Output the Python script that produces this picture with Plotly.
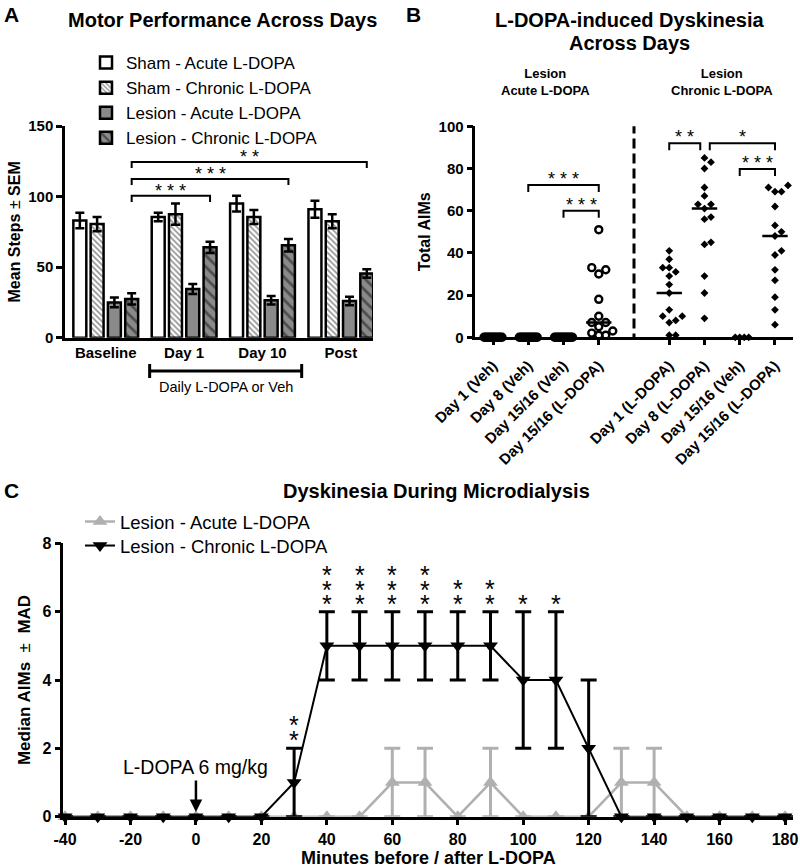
import numpy as np
import plotly.graph_objects as go

W, H = 800, 868
FONT = "Arial, Liberation Sans, sans-serif"

# ---------------- Panel A data: Motor performance ----------------
a_groups = ["Baseline", "Day 1", "Day 10", "Post"]
a_names = ["Sham - Acute L-DOPA", "Sham - Chronic L-DOPA",
           "Lesion - Acute L-DOPA", "Lesion - Chronic L-DOPA"]
sham_acute_mean = [83, 85.5, 95, 91]
sham_acute_sem = [5.5, 3, 5.5, 6]
sham_chronic_mean = [80.5, 87.5, 85.5, 82.5]
sham_chronic_sem = [5, 7.5, 5, 5]
lesion_acute_mean = [25, 34.5, 26.5, 26]
lesion_acute_sem = [3.5, 3.5, 3, 3]
lesion_chronic_mean = [27.5, 64, 65.5, 45.5]
lesion_chronic_sem = [4, 4, 4.5, 3]
# significance brackets (from Baseline lesion-chronic to group index)
a_sig_targets = [1, 2, 3]
a_sig_levels = [100.5, 112.5, 124.5]
a_sig_text = ["***", "***", "**"]

# ---------------- Panel B data: AIMs scatter ----------------
b_acute_labels = ["Day 1 (Veh)", "Day 8 (Veh)", "Day 15/16 (Veh)", "Day 15/16 (L-DOPA)"]
b_chronic_labels = ["Day 1 (L-DOPA)", "Day 8 (L-DOPA)", "Day 15/16 (Veh)", "Day 15/16 (L-DOPA)"]
acute_day1_veh = [0, 0, 0, 0, 0, 0, 0, 0, 0, 0, 0, 0, 0]
acute_day8_veh = [0, 0, 0, 0, 0, 0, 0, 0, 0, 0, 0, 0, 0]
acute_day1516_veh = [0, 0, 0, 0, 0, 0, 0, 0, 0, 0, 0, 0, 0]
acute_day1516_ldopa = [51, 33, 32, 30, 18, 10, 7, 7, 5, 3, 2, 1, 1]
chronic_day1_ldopa = [41, 37, 33, 33, 31, 29, 25, 21, 13, 10, 10, 8, 7, 1, 1]
chronic_day8_ldopa = [85, 83, 80, 71, 67, 63, 63, 61, 57, 56, 45, 44, 29, 21, 9]
chronic_day1516_veh = [0, 0, 0, 0]
chronic_day1516_ldopa = [72, 71, 69, 69, 62, 53, 50, 48, 41, 39, 32, 27, 19, 13, 6]
# brackets: (from column, to column, level, text)
b_brackets = [(1, 3, 72.2, "***"), (2, 3, 60, "***"), (3, 8, 104.4, "**"),
              (5, 5.88, 92, "**"), (6.15, 8, 92, "*"), (7, 8, 79.8, "***")]

# ---------------- Panel C data: dyskinesia time course ----------------
minutes = [-40, -30, -20, -10, 0, 10, 20, 30, 40, 50, 60, 70, 80, 90, 100,
           110, 120, 130, 140, 150, 160, 170, 180]
acute_median = [0, 0, 0, 0, 0, 0, 0, 0, 0, 0, 1, 1, 0, 1, 0, 0, 0, 1, 1, 0, 0, 0, 0]
acute_mad = [0, 0, 0, 0, 0, 0, 0, 0, 0, 0, 1, 1, 0, 1, 0, 0, 0, 1, 1, 0, 0, 0, 0]
chronic_median = [0, 0, 0, 0, 0, 0, 0, 1, 5, 5, 5, 5, 5, 5, 4, 4, 2, 0, 0, 0, 0, 0, 0]
chronic_mad = [0, 0, 0, 0, 0, 0, 0, 1, 1, 1, 1, 1, 1, 1, 2, 2, 2, 0, 0, 0, 0, 0, 0]
chronic_stars = [0, 0, 0, 0, 0, 0, 0, 2, 3, 3, 3, 3, 2, 2, 1, 1, 0, 0, 0, 0, 0, 0, 0]
c_ticks = [-40, -20, 0, 20, 40, 60, 80, 100, 120, 140, 160, 180]

# ---------------- layout geometry (pixels) ----------------
A_X = (65, 373); A_Y = (337.7, 126.0); A_XR = [-0.52, 3.41]; A_YR = [0, 150]
B_X = (475.4, 792.6); B_Y = (337.3, 126.3); B_XR = [-0.5, 8.5]; B_YR = [0, 100]
C_X = (63.4, 793.2); C_Y = (816.7, 543.3); C_XR = [-40.5, 182.5]; C_YR = [0, 8]


def xdom(p):
    return [p[0] / W, p[1] / W]


def ydom(p):
    return [1 - p[0] / H, 1 - p[1] / H]


axis_common = dict(showline=True, linewidth=2.5, linecolor="black", showgrid=False,
                   zeroline=False, ticks="outside", tickwidth=2.5, ticklen=6, automargin=False,
                   tickcolor="black", tickfont=dict(size=15, weight="bold", color="black"))

fig = go.Figure()

# ---------------- Panel A traces ----------------
BARGAP, BARGROUPGAP = 0.118, 0.25
gray = "#8a8a8a"
a_styles = [
    dict(color="white"),
    dict(color="white", pattern=dict(shape="\\", bgcolor="white", fgcolor="#222222",
                                     size=4, solidity=0.4)),
    dict(color=gray),
    dict(color=gray, pattern=dict(shape="\\", bgcolor=gray, fgcolor="#111111",
                                  size=8, solidity=0.35)),
]
a_means = [sham_acute_mean, sham_chronic_mean, lesion_acute_mean, lesion_chronic_mean]
a_sems = [sham_acute_sem, sham_chronic_sem, lesion_acute_sem, lesion_chronic_sem]
xa = list(range(len(a_groups)))
for name, m, s, st in zip(a_names, a_means, a_sems, a_styles):
    mk = dict(st)
    mk["line"] = dict(color="black", width=2.5)
    fig.add_trace(go.Bar(x=xa, y=m, name=name, marker=mk, xaxis="x", yaxis="y",
                         error_y=dict(type="data", array=s, color="black",
                                      thickness=2.5, width=4.5),
                         legend="legend"))

shapes = []
annotations = []

# bar offset of the Lesion-Chronic bar inside a group
n_series = len(a_names)
slot = (1 - BARGAP) / n_series
lc_off = -(1 - BARGAP) / 2 + slot * (n_series - 0.5)
a_drop = 4.3
for tgt, lev, txt in zip(a_sig_targets, a_sig_levels, a_sig_text):
    x0 = 0 + lc_off
    x1 = tgt + lc_off
    shapes.append(dict(type="path", xref="x", yref="y",
                       path=f"M {x0},{lev - a_drop} L {x0},{lev} L {x1},{lev} L {x1},{lev - a_drop}",
                       line=dict(color="black", width=2)))
    annotations.append(dict(x=(x0 + x1) / 2, y=lev, xref="x", yref="y", text=" ".join(txt),
                            showarrow=False, xanchor="center", yanchor="middle", yshift=5,
                            font=dict(size=18, color="black")))

# "Daily L-DOPA or Veh" bracket under the axis
d0, d1 = 0.56, 2.5
shapes.append(dict(type="line", xref="x", yref="paper", x0=d0, x1=d1,
                   y0=1 - 371 / H, y1=1 - 371 / H, line=dict(color="black", width=3)))
for xx in (d0, d1):
    shapes.append(dict(type="line", xref="x", yref="paper", x0=xx, x1=xx,
                       y0=1 - 364 / H, y1=1 - 378 / H, line=dict(color="black", width=3)))
annotations.append(dict(x=(d0 + d1) / 2, y=1 - 387 / H, xref="x", yref="paper",
                        text="Daily L-DOPA or Veh", showarrow=False,
                        xanchor="center", yanchor="middle",
                        font=dict(size=14.5, color="black")))

# ---------------- Panel B traces ----------------
b_xppu = (B_X[1] - B_X[0]) / (B_XR[1] - B_XR[0])
b_yppu = (B_Y[0] - B_Y[1]) / (B_YR[1] - B_YR[0])


def swarm(vals, diam):
    vals = np.asarray(vals, float)
    order = np.argsort(vals, kind="stable")
    placed = []
    offs = np.zeros(len(vals))
    for i in order:
        y = vals[i] * b_yppu
        k = 0
        while True:
            c = 0 if k == 0 else ((k + 1) // 2) * diam * (1 if k % 2 else -1)
            if all((c - px) ** 2 + (y - py) ** 2 >= diam ** 2 - 1e-9 for px, py in placed):
                break
            k += 1
        placed.append((c, y))
        offs[i] = c / b_xppu
    return offs


acute_cols = [acute_day1_veh, acute_day8_veh, acute_day1516_veh, acute_day1516_ldopa]
chronic_cols = [chronic_day1_ldopa, chronic_day8_ldopa, chronic_day1516_veh, chronic_day1516_ldopa]
acute_pos = list(range(len(acute_cols)))
chronic_pos = [p + len(acute_cols) + 1 for p in range(len(chronic_cols))]
divider = len(acute_cols)

# median lines
for pos, col in list(zip(acute_pos, acute_cols)) + list(zip(chronic_pos, chronic_cols)):
    med = float(np.median(col))
    if med > 0:
        fig.add_trace(go.Scatter(x=[pos - 0.36, pos + 0.36], y=[med, med], mode="lines",
                                 line=dict(color="black", width=2.5), xaxis="x2", yaxis="y2",
                                 showlegend=False, hoverinfo="skip", cliponaxis=False))

for pos, col in zip(acute_pos, acute_cols):
    diam = 7 if max(col) > 0 else 1.5
    xs = pos + swarm(col, diam)
    fig.add_trace(go.Scatter(x=xs, y=col, mode="markers", xaxis="x2", yaxis="y2",
                             marker=dict(symbol="circle-open", size=7, color="black",
                                         line=dict(width=2.4, color="black")),
                             showlegend=False, cliponaxis=False))
for pos, col in zip(chronic_pos, chronic_cols):
    diam = 6.5 if max(col) > 0 else 4.5
    xs = pos + swarm(col, diam)
    fig.add_trace(go.Scatter(x=xs, y=col, mode="markers", xaxis="x2", yaxis="y2",
                             marker=dict(symbol="diamond", size=6, color="black"),
                             showlegend=False, cliponaxis=False))

b_drop = 3.3
for x0, x1, lev, txt in b_brackets:
    shapes.append(dict(type="path", xref="x2", yref="y2",
                       path=f"M {x0},{lev - b_drop} L {x0},{lev} L {x1},{lev} L {x1},{lev - b_drop}",
                       line=dict(color="black", width=2)))
    annotations.append(dict(x=(x0 + x1) / 2, y=lev, xref="x2", yref="y2", text=" ".join(txt),
                            showarrow=False, xanchor="center", yanchor="middle", yshift=6,
                            font=dict(size=18, color="black")))
shapes.append(dict(type="line", xref="x2", yref="y2", x0=divider, x1=divider, y0=-10, y1=130,
                   line=dict(color="black", width=3, dash="10px,5px")))
annotations.append(dict(x=np.mean(acute_pos), y=1 - 81.5 / H, xref="x2", yref="paper",
                        text="<b>Lesion<br>Acute L-DOPA</b>", showarrow=False,
                        xanchor="center", yanchor="middle",
                        font=dict(size=13, color="black")))
annotations.append(dict(x=np.mean(chronic_pos), y=1 - 81.5 / H, xref="x2", yref="paper",
                        text="<b>Lesion<br>Chronic L-DOPA</b>", showarrow=False,
                        xanchor="center", yanchor="middle",
                        font=dict(size=13, color="black")))

# ---------------- Panel C traces ----------------
c_gray = "#b0b0b0"
amad = [v if v > 0 else None for v in acute_mad]
cmad = [v if v > 0 else None for v in chronic_mad]
fig.add_trace(go.Scatter(x=minutes, y=acute_median, mode="lines+markers", name="Lesion - Acute L-DOPA",
                         line=dict(color=c_gray, width=2.5),
                         marker=dict(symbol="triangle-up", size=13, color=c_gray),
                         error_y=dict(type="data", array=amad, color=c_gray, thickness=3, width=8),
                         xaxis="x3", yaxis="y3", legend="legend2", cliponaxis=False))
fig.add_trace(go.Scatter(x=minutes, y=chronic_median, mode="lines+markers", name="Lesion - Chronic L-DOPA",
                         line=dict(color="black", width=2),
                         marker=dict(symbol="triangle-down", size=13, color="black"),
                         error_y=dict(type="data", array=cmad, color="black", thickness=3, width=8),
                         xaxis="x3", yaxis="y3", legend="legend3", cliponaxis=False))

STAR = "<span style='font-size:25px'>*</span>"
for m, med, mad, ns in zip(minutes, chronic_median, chronic_mad, chronic_stars):
    if ns > 0:
        annotations.append(dict(x=m, y=med + mad, xref="x3", yref="y3",
                                text="<br>".join([STAR] * ns),
                                showarrow=False, xanchor="center", yanchor="bottom",
                                yshift=-8, font=dict(size=11.2, color="black")))

c_yppu = (C_Y[0] - C_Y[1]) / (C_YR[1] - C_YR[0])
annotations.append(dict(x=0, y=(C_Y[0] - 812) / c_yppu, xref="x3", yref="y3",
                        ax=0, ay=(C_Y[0] - 779) / c_yppu, axref="x3", ayref="y3",
                        text="", showarrow=True, arrowhead=2, arrowsize=1, arrowwidth=2.5,
                        arrowcolor="black"))
annotations.append(dict(x=0, y=(C_Y[0] - 767) / c_yppu, xref="x3", yref="y3",
                        text="L-DOPA 6 mg/kg", showarrow=False,
                        xanchor="center", yanchor="middle",
                        font=dict(size=19.5, color="black")))

# ---------------- titles & panel letters ----------------
def title(x, y, text, size=20):
    return dict(x=x / W, y=1 - y / H, xref="paper", yref="paper", text=f"<b>{text}</b>",
                showarrow=False, xanchor="center", yanchor="middle",
                font=dict(size=size, color="black"))


annotations += [
    title(222, 20, "Motor Performance Across Days"),
    title(629, 20, "L-DOPA-induced Dyskinesia"),
    title(629, 43, "Across Days"),
    title(436, 491, "Dyskinesia During Microdialysis"),
    title(11, 15, "A", 21),
    title(413, 15, "B", 21),
    title(11, 490, "C", 21),
]

leg_common = dict(xanchor="left", traceorder="normal", bgcolor="rgba(0,0,0,0)")
fig.update_layout(
    width=W, height=H, margin=dict(l=0, r=0, t=0, b=0, autoexpand=False),
    paper_bgcolor="white", plot_bgcolor="white",
    font=dict(family=FONT, color="black"),
    barmode="group", bargap=BARGAP, bargroupgap=BARGROUPGAP,
    xaxis=dict(axis_common, domain=xdom(A_X), range=A_XR, tickvals=xa, ticktext=a_groups,
               ticks="", anchor="y"),
    yaxis=dict(axis_common, domain=ydom(A_Y), range=A_YR, tickvals=[0, 50, 100, 150], anchor="x",
               title=dict(text="<b>Mean Steps</b> ± <b>SEM</b>", font=dict(size=16), standoff=4)),
    xaxis2=dict(axis_common, domain=xdom(B_X), range=B_XR, tickvals=acute_pos + chronic_pos,
                ticktext=b_acute_labels + b_chronic_labels, tickangle=-45, ticklen=5,
                ticklabelstandoff=6,
                tickfont=dict(size=15, weight="bold", color="black"), anchor="y2"),
    yaxis2=dict(axis_common, domain=ydom(B_Y), range=B_YR, tickvals=[0, 20, 40, 60, 80, 100],
                anchor="x2",
                title=dict(text="<b>Total AIMs</b>", font=dict(size=16), standoff=5)),
    xaxis3=dict(axis_common, domain=xdom(C_X), range=C_XR, tickvals=c_ticks,
                ticktext=[str(t) for t in c_ticks], anchor="y3",
                tickfont=dict(size=16, weight="bold", color="black"),
                title=dict(text="<b>Minutes before / after L-DOPA</b>", font=dict(size=18),
                           standoff=5)),
    yaxis3=dict(axis_common, domain=ydom(C_Y), range=C_YR, tickvals=[0, 2, 4, 6, 8], anchor="x3",
                tickfont=dict(size=16, weight="bold", color="black"),
                title=dict(text="<b>Median AIMs</b>  ±  <b>MAD</b>", font=dict(size=17), standoff=8)),
    legend=dict(leg_common, x=86 / W, y=1 - 45 / H, yanchor="top",
                font=dict(size=17, color="black")),
    legend2=dict(leg_common, x=80 / W, y=1 - 522 / H, yanchor="middle",
                 font=dict(size=18.5, color="black")),
    legend3=dict(leg_common, x=80 / W, y=1 - 546 / H, yanchor="middle",
                 font=dict(size=18.5, color="black")),
    shapes=shapes, annotations=annotations,
)

fig.write_html("out.html", config={"displayModeBar": False},
               post_script="document.body.style.margin='0';")
